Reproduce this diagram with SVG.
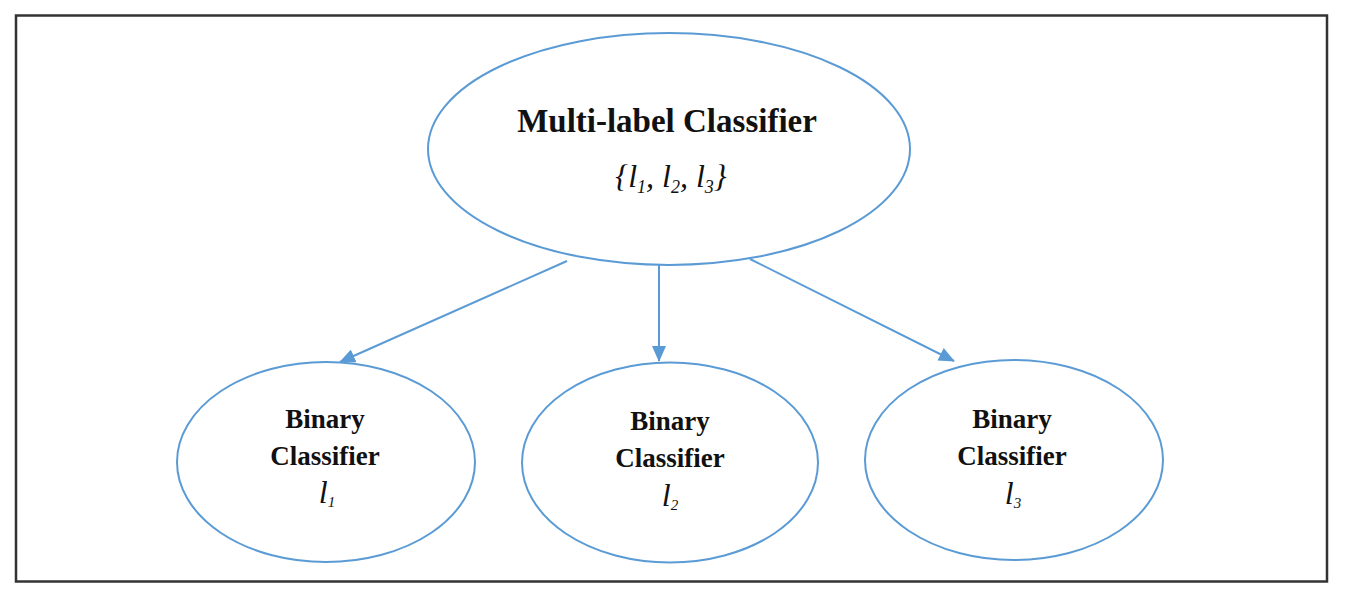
<svg xmlns="http://www.w3.org/2000/svg" width="1345" height="598" viewBox="0 0 1345 598">
  <style>
    .node { fill: #ffffff; stroke: #5B9BD5; stroke-width: 2; }
    .title { font-family: "Liberation Serif", "Times New Roman", serif; font-weight: bold; fill: #111111; text-anchor: middle; }
    .math { font-family: "Liberation Serif", "Times New Roman", serif; font-style: italic; fill: #111111; text-anchor: middle; }
    .edge { stroke: #5B9BD5; stroke-width: 2; fill: none; }
  </style>
  <defs>
    <marker id="arrow" markerUnits="userSpaceOnUse" markerWidth="16" markerHeight="14" refX="15" refY="7" orient="auto">
      <path d="M0,0 L16,7 L0,14 Z" fill="#5B9BD5"/>
    </marker>
  </defs>
  <rect x="0" y="0" width="1345" height="598" fill="#ffffff"/>
  <rect x="16" y="15.5" width="1311" height="566" fill="none" stroke="#333333" stroke-width="2.5"/>

  <g id="connectors">
    <line class="edge" x1="567" y1="261" x2="340" y2="362" marker-end="url(#arrow)"/>
    <line class="edge" x1="659" y1="262" x2="659" y2="361" marker-end="url(#arrow)"/>
    <line class="edge" x1="750" y1="259" x2="954" y2="361" marker-end="url(#arrow)"/>
  </g>

  <g id="multi-label-classifier">
    <ellipse class="node" cx="669" cy="149" rx="241" ry="116"/>
    <text class="title" x="667" y="132" font-size="33">Multi-label Classifier</text>
    <text class="math" x="671" y="187" font-size="32">{<tspan>l</tspan><tspan font-size="18" dy="6">1</tspan><tspan dy="-6">, l</tspan><tspan font-size="18" dy="6">2</tspan><tspan dy="-6">, l</tspan><tspan font-size="18" dy="6">3</tspan><tspan dy="-6">}</tspan></text>
  </g>

  <g id="binary-classifier-1">
    <ellipse class="node" cx="326" cy="462" rx="149" ry="100"/>
    <text class="title" x="325" y="428" font-size="27">Binary</text>
    <text class="title" x="325" y="465" font-size="27">Classifier</text>
    <text class="math" x="327" y="503" font-size="32">l<tspan font-size="15" dy="4">1</tspan></text>
  </g>

  <g id="binary-classifier-2">
    <ellipse class="node" cx="670" cy="462.5" rx="148" ry="100"/>
    <text class="title" x="670" y="430" font-size="27">Binary</text>
    <text class="title" x="670" y="467" font-size="27">Classifier</text>
    <text class="math" x="670" y="506" font-size="32">l<tspan font-size="15" dy="4">2</tspan></text>
  </g>

  <g id="binary-classifier-3">
    <ellipse class="node" cx="1014" cy="460" rx="149" ry="100"/>
    <text class="title" x="1012" y="428" font-size="27">Binary</text>
    <text class="title" x="1012" y="465" font-size="27">Classifier</text>
    <text class="math" x="1013" y="504" font-size="32">l<tspan font-size="15" dy="4">3</tspan></text>
  </g>
</svg>
